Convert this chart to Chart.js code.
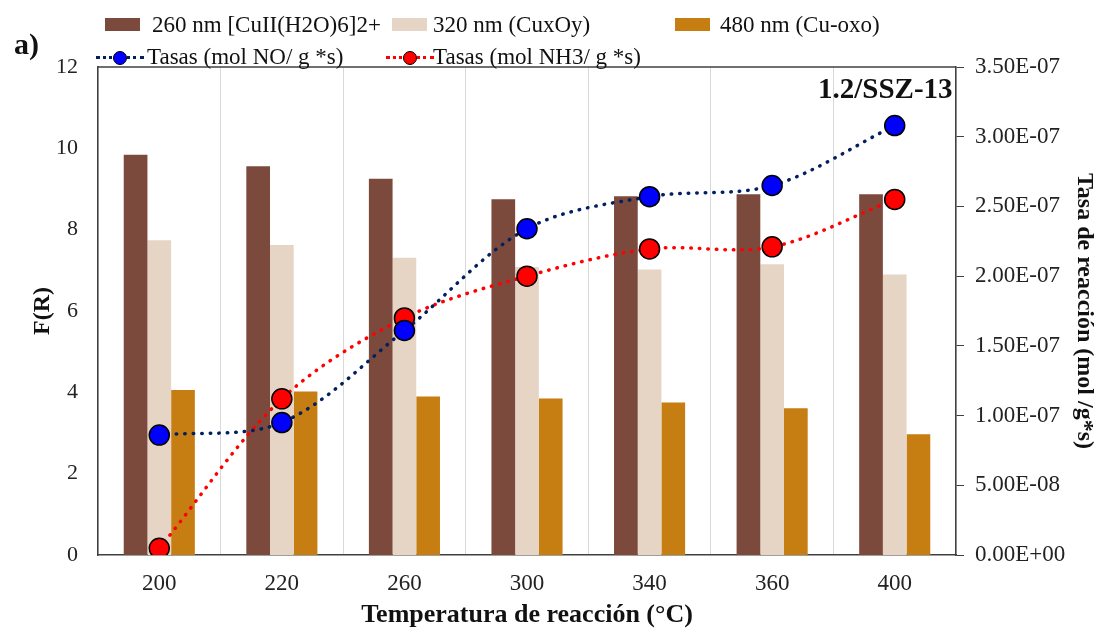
<!DOCTYPE html>
<html>
<head>
<meta charset="utf-8">
<script src="https://cdn.jsdelivr.net/npm/chart.js@4.4.1/dist/chart.umd.min.js"></script>
<style>
  html, body { margin: 0; padding: 0; background: #fff; }
  #wrap { position: relative; width: 1103px; height: 633px; font-family: "Liberation Serif", "DejaVu Serif", serif; color: #111; }
  #chart { position: absolute; left: 0; top: 0; }
  .lab { position: absolute; white-space: nowrap; font-size: 23px; line-height: 26px; }
  .box { position: absolute; height: 13px; width: 35px; }
  .ln { position: absolute; width: 48px; height: 16px; }
  .ln .dots { position: absolute; left: 0; right: 0; top: 6px; border-top: 3px dotted; }
  .ln .dot { position: absolute; left: 17px; top: 1px; width: 14px; height: 14px; border-radius: 50%; border: 1.5px solid #000; box-sizing: border-box; }
</style>
</head>
<body>
<div id="wrap">
  <canvas id="chart" width="1103" height="633"></canvas>

  <div class="lab" style="left:14px; top:28px; font-size:30px; line-height:32px; font-weight:bold;">a)</div>

  <!-- leyenda: barras -->
  <div class="box" style="left:105px; top:18px; background:#7B4A3C;"></div>
  <div class="lab" style="left:152px; top:12px;">260 nm [CuII(H2O)6]2+</div>
  <div class="box" style="left:392px; top:18px; background:#E6D5C5;"></div>
  <div class="lab" style="left:433px; top:12px;">320 nm (CuxOy)</div>
  <div class="box" style="left:675px; top:18px; background:#C67D12;"></div>
  <div class="lab" style="left:720px; top:12px;">480 nm (Cu-oxo)</div>

  <!-- leyenda: tasas -->
  <div class="ln" style="left:96px; top:50px;"><div class="dots" style="border-color:#002060;"></div><div class="dot" style="background:#0000FF;"></div></div>
  <div class="lab" style="left:147px; top:44px;">Tasas (mol NO/ g *s)</div>
  <div class="ln" style="left:386px; top:50px;"><div class="dots" style="border-color:#FF0000;"></div><div class="dot" style="background:#FF0000;"></div></div>
  <div class="lab" style="left:433px; top:44px;">Tasas (mol NH3/ g *s)</div>

  <div class="lab" style="left:818px; top:73px; font-size:29px; line-height:30px; font-weight:bold;">1.2/SSZ-13</div>
</div>

<script>
// Datos
const temperaturas = ['200', '220', '260', '300', '340', '360', '400'];
const fr260 = [9.84, 9.56, 9.25, 8.75, 8.82, 8.87, 8.87];
const fr320 = [7.74, 7.62, 7.31, 7.08, 7.02, 7.15, 6.90];
const fr480 = [4.06, 4.02, 3.90, 3.85, 3.75, 3.61, 2.97];
const tasaNO = [8.6e-8, 9.5e-8, 1.61e-7, 2.34e-7, 2.57e-7, 2.65e-7, 3.08e-7];
const tasaNH3 = [4.8e-9, 1.12e-7, 1.70e-7, 2.00e-7, 2.195e-7, 2.21e-7, 2.55e-7];

const frMin = 0, frMax = 12, frStep = 2;
const tasaMin = 0, tasaMax = 3.5e-7, tasaStep = 5e-8;

// Formato tipo Excel: 3.50E-07
function formatoCientifico(v) {
    const [m, e] = Number(v).toExponential(2).split('e');
    const signo = e[0] === '-' ? '-' : '+';
    const exp = e.replace(/[+-]/, '').padStart(2, '0');
    return m + 'E' + signo + exp;
}

// Marco superior del área del gráfico
const marcoPlugin = {
    id: 'marco',
    afterDraw(chart) {
        const { ctx, chartArea } = chart;
        ctx.save();
        ctx.strokeStyle = '#404040';
        ctx.lineWidth = 1.5;
        ctx.beginPath();
        ctx.moveTo(chartArea.left, chartArea.top);
        ctx.lineTo(chartArea.right, chartArea.top);
        ctx.stroke();
        ctx.restore();
    }
};

const serif = '"Liberation Serif", "DejaVu Serif", serif';
const dotted = { borderDash: [0.5, 8], borderCapStyle: 'round', borderWidth: 3.5 };

new Chart(document.getElementById('chart'), {
    type: 'bar',
    data: {
        labels: temperaturas,
        datasets: [
            { type: 'line', label: 'Tasas (mol NO/ g *s)', data: tasaNO, yAxisID: 'y1', order: 0,
              borderColor: '#002060', ...dotted, tension: 0.33, fill: false,
              pointRadius: 10, pointBackgroundColor: '#0000FF', pointBorderColor: '#000', pointBorderWidth: 1.5 },
            { type: 'line', label: 'Tasas (mol NH3/ g *s)', data: tasaNH3, yAxisID: 'y1', order: 0,
              borderColor: '#FF0000', ...dotted, tension: 0.33, fill: false,
              pointRadius: 10, pointBackgroundColor: '#FF0000', pointBorderColor: '#000', pointBorderWidth: 1.5 },
            { label: '260 nm [CuII(H2O)6]2+', data: fr260, backgroundColor: '#7B4A3C', yAxisID: 'y', order: 1 },
            { label: '320 nm (CuxOy)', data: fr320, backgroundColor: '#E6D5C5', yAxisID: 'y', order: 1 },
            { label: '480 nm (Cu-oxo)', data: fr480, backgroundColor: '#C67D12', yAxisID: 'y', order: 1 }
        ]
    },
    options: {
        responsive: false,
        animation: false,
        devicePixelRatio: 1,
        categoryPercentage: 0.58,
        barPercentage: 1.0,
        layout: { padding: { left: 28, right: 4, top: 67, bottom: 2 } },
        plugins: { legend: { display: false }, tooltip: { enabled: false } },
        scales: {
            x: {
                grid: { color: '#d9d9d9', lineWidth: 1, drawTicks: false, offset: true },
                border: { color: '#404040', width: 1.5 },
                ticks: { color: '#222', font: { family: serif, size: 23 }, padding: 15 },
                title: { display: true, text: 'Temperatura de reacción (°C)', color: '#111',
                         font: { family: serif, size: 26, weight: 'bold' }, padding: { top: 0, bottom: 0 } },
                afterFit(s) { s.height = 76; }
            },
            y: {
                position: 'left', min: frMin, max: frMax,
                grid: { display: false },
                border: { color: '#404040', width: 1.5 },
                ticks: { stepSize: frStep, color: '#222', font: { family: serif, size: 22 }, padding: 12 },
                title: { display: true, text: 'F(R)', color: '#111',
                         font: { family: serif, size: 24, weight: 'bold' }, padding: 0 },
                afterFit(s) { s.width = 70; }
            },
            y1: {
                position: 'right', min: tasaMin, max: tasaMax,
                grid: { drawOnChartArea: false, color: '#404040', tickLength: 8, lineWidth: 1 },
                border: { color: '#404040', width: 1.5 },
                ticks: { stepSize: tasaStep, color: '#222', font: { family: serif, size: 23 }, padding: 11,
                         callback: v => formatoCientifico(v) },
                title: { display: true, text: 'Tasa de reacción (mol /g*s)', color: '#111',
                         font: { family: serif, size: 24, weight: 'bold' }, padding: 0 },
                afterFit(s) { s.width = 143; }
            }
        }
    },
    plugins: [marcoPlugin]
});
</script>
</body>
</html>
